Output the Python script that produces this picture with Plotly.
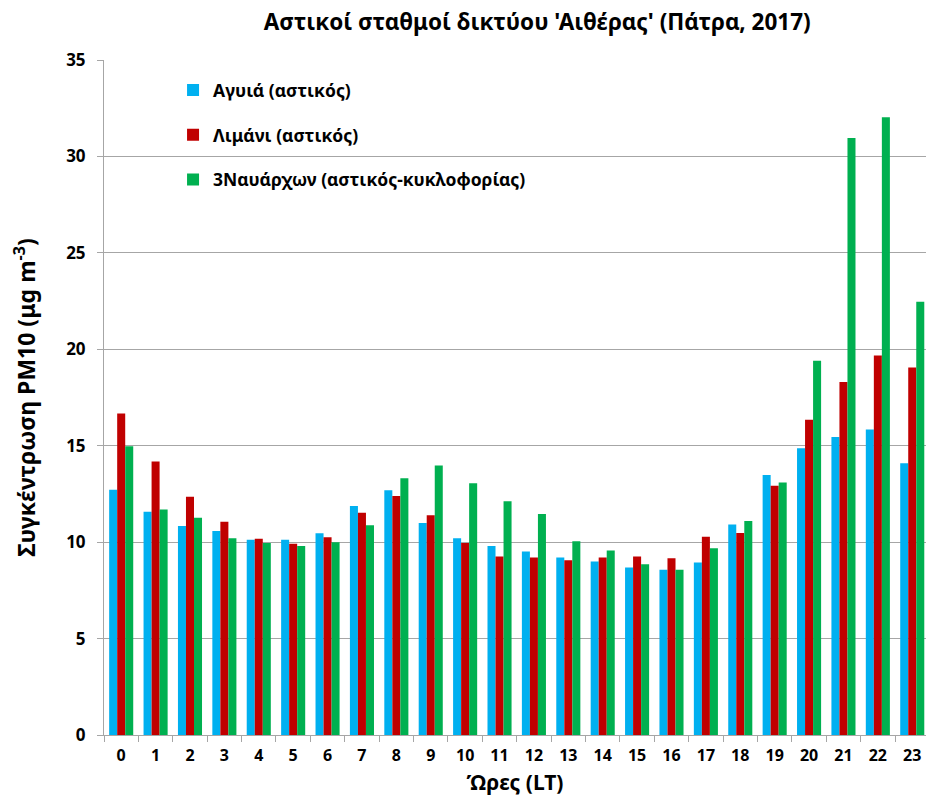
import plotly.graph_objects as go

# Hourly mean PM10 concentration per station (μg m-3)
hours = [str(h) for h in range(24)]

agyia = [12.72, 11.58, 10.84, 10.58, 10.13, 10.13, 10.46, 11.87, 12.69, 10.99,
         10.20, 9.80, 9.51, 9.20, 8.99, 8.69, 8.57, 8.95, 10.91, 13.48,
         14.87, 15.45, 15.84, 14.09]
limani = [16.67, 14.18, 12.36, 11.06, 10.18, 9.92, 10.25, 11.53, 12.39, 11.39,
          9.95, 9.26, 9.21, 9.06, 9.21, 9.25, 9.16, 10.28, 10.47, 12.93,
          16.34, 18.31, 19.68, 19.06]
nauarxon = [14.97, 11.69, 11.27, 10.20, 9.95, 9.80, 10.00, 10.87, 13.31, 13.97,
            13.05, 12.12, 11.46, 10.04, 9.57, 8.86, 8.57, 9.68, 11.10, 13.09,
            19.40, 30.95, 32.03, 22.46]

series = [
    ("Αγυιά (αστικός)", agyia, "#00B0F0"),
    ("Λιμάνι (αστικός)", limani, "#C00000"),
    ("3Ναυάρχων (αστικός-κυκλοφορίας)", nauarxon, "#00B050"),
]

FONT = "Noto Sans"

fig = go.Figure()
for i, (name, vals, col) in enumerate(series):
    fig.add_trace(go.Bar(
        x=hours, y=vals, name=f"<b>{name}</b>", marker_color=col,
        marker_line_width=0, legendgroup=f"g{i}",
    ))

fig.update_layout(
    width=926, height=798,
    margin=dict(l=104, r=0, t=60, b=63),
    paper_bgcolor="white", plot_bgcolor="white",
    barmode="group", bargap=0.3, bargroupgap=0,
    font=dict(family=FONT, color="#000000"),
    title=dict(
        text="<b>Αστικοί σταθμοί δικτύου 'Αιθέρας' (Πάτρα, 2017)</b>",
        x=0.527, xanchor="center", xref="paper",
        y=0.972, yanchor="middle", yref="container",
        font=dict(size=22.5, family=FONT, color="#000000"),
    ),
    legend=dict(
        x=0.084, y=0.982, xanchor="left", yanchor="top",
        bgcolor="rgba(0,0,0,0)", tracegroupgap=19,
        font=dict(size=17.5, family=FONT, color="#000000"),
        itemwidth=30,
    ),
    showlegend=True,
)

fig.update_xaxes(
    type="category", range=[-0.5, 23.4],
    showline=True, linecolor="#A6A6A6", linewidth=1,
    ticks="outside", tickson="boundaries", ticklen=6, tickcolor="#A6A6A6",
    ticklabelstandoff=6,
    tickfont=dict(size=16, family=FONT, weight="bold"),
    title=dict(text="<b>Ώρες (LT)</b>", font=dict(size=21, family=FONT), standoff=10),
    showgrid=False,
)

fig.update_yaxes(
    range=[0, 35], dtick=5, tick0=0,
    showline=True, linecolor="#A6A6A6", linewidth=1,
    ticks="outside", ticklen=6, tickcolor="#A6A6A6",
    ticklabelstandoff=8,
    showgrid=True, gridcolor="#A6A6A6", gridwidth=1,
    zeroline=False,
    tickfont=dict(size=17, family=FONT, weight="bold"),
    title=dict(text="<b>Συγκέντρωση PM10 (μg m<sup>-3</sup>)</b>",
               font=dict(size=23, family=FONT), standoff=24),
)

fig.write_html("out.html")
